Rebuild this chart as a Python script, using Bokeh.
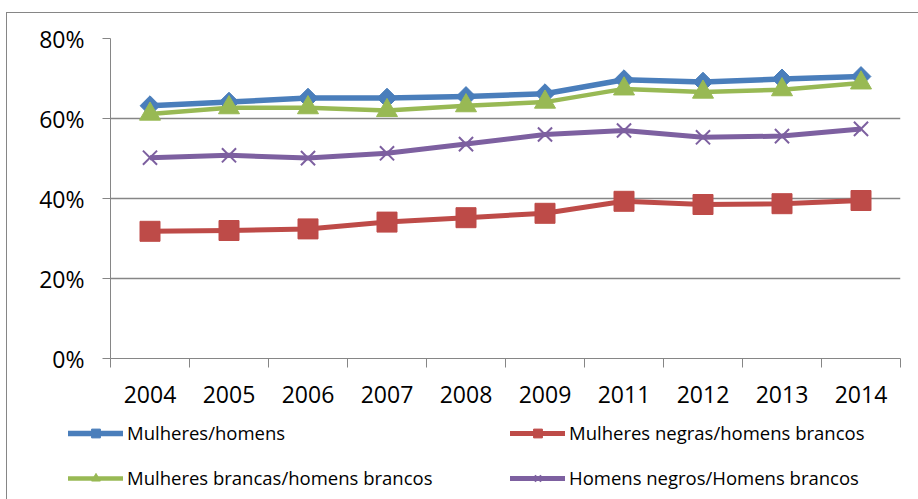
from bokeh.plotting import figure
from bokeh.layouts import column
from bokeh.models import (Range1d, FixedTicker, Legend, LegendItem, ColumnDataSource,
                          CustomJSTickFormatter, PrintfTickFormatter)
from bokeh.embed import file_html
from bokeh.resources import INLINE
import math

# ---- data ----
years = ["2004", "2005", "2006", "2007", "2008", "2009", "2011", "2012", "2013", "2014"]
mulheres_homens = [63.2, 64.1, 65.1, 65.1, 65.5, 66.2, 69.7, 69.1, 69.9, 70.5]
mulheres_negras_homens_brancos = [31.8, 32.0, 32.4, 34.1, 35.2, 36.3, 39.3, 38.5, 38.7, 39.5]
mulheres_brancas_homens_brancos = [61.1, 62.7, 62.7, 62.0, 63.2, 64.1, 67.4, 66.6, 67.2, 68.9]
homens_negros_homens_brancos = [50.2, 50.8, 50.1, 51.3, 53.6, 56.0, 57.0, 55.3, 55.6, 57.4]
y_ticks = [0, 20, 40, 60, 80]

series_names = ["Mulheres/homens", "Mulheres negras/homens brancos",
                "Mulheres brancas/homens brancos", "Homens negros/Homens brancos"]

FONT = "Open Sans"
GRAY = "#868686"

xs = [i + 0.5 for i in range(len(years))]

p = figure(width=918, height=415, output_backend="svg", toolbar_location=None,
           x_range=Range1d(0, len(years)), y_range=Range1d(0, 80),
           min_border_left=110, min_border_right=18, min_border_top=38, min_border_bottom=57)
p.frame_align = False
p.outline_line_color = None
p.background_fill_color = "white"
p.border_fill_color = None

# x axis: labels at category centres, ticks at category boundaries
xa = p.xaxis[0]
xa.ticker = FixedTicker(ticks=xs, minor_ticks=list(range(len(years) + 1)))
xa.formatter = CustomJSTickFormatter(args=dict(labels=years),
                                     code="return labels[Math.floor(tick)] || ''")
xa.major_tick_out = 0
xa.major_tick_in = 0
xa.minor_tick_out = 9
xa.minor_tick_in = 0
xa.minor_tick_line_color = GRAY
xa.axis_line_color = GRAY
xa.major_label_text_font = FONT
xa.major_label_text_font_size = "23px"
xa.major_label_text_color = "black"
xa.major_label_standoff = 18

ya = p.yaxis[0]
ya.ticker = FixedTicker(ticks=y_ticks)
ya.formatter = PrintfTickFormatter(format="%d%%")
ya.major_tick_out = 8
ya.major_tick_in = 0
ya.minor_tick_line_color = None
ya.major_tick_line_color = GRAY
ya.axis_line_color = GRAY
ya.major_label_text_font = FONT
ya.major_label_text_font_size = "23px"
ya.major_label_text_color = "black"
ya.major_label_standoff = 18

p.xgrid.grid_line_color = None
p.ygrid.ticker = FixedTicker(ticks=y_ticks[1:])
p.ygrid.grid_line_color = GRAY
p.ygrid.grid_line_width = 1.3

colors = ["#4A7EBB", "#BE4B48", "#98B954", "#7D60A0"]
values = [mulheres_homens, mulheres_negras_homens_brancos,
          mulheres_brancas_homens_brancos, homens_negros_homens_brancos]
markers = ["square", "square", "triangle", "x"]
sizes = [14, 20, 21, 20]
angles = [math.pi / 4, 0, 0, 0]
lwidths = [5.5, 5, 4.5, 5]

# legend strip (separate canvas so the legend is not clipped by the plot frame)
p2 = figure(width=918, height=84, output_backend="svg", toolbar_location=None,
            x_range=Range1d(0, len(years)), y_range=Range1d(-2, -1),
            x_axis_location=None, y_axis_location=None,
            min_border_left=0, min_border_right=0, min_border_top=0, min_border_bottom=0)
p2.frame_align = False
p2.outline_line_color = None
p2.background_fill_color = None
p2.border_fill_color = None
p2.grid.visible = False

items = []
for name, vals, c, m, s, a, lw in zip(series_names, values, colors, markers, sizes, angles, lwidths):
    src = ColumnDataSource(dict(x=xs, y=vals))
    p.line("x", "y", source=src, line_color=c, line_width=lw, line_join="round")
    if m == "x":
        p.scatter("x", "y", source=src, marker=m, size=s, line_color=c, line_width=2)
    else:
        p.scatter("x", "y", source=src, marker=m, size=s, angle=a,
                  fill_color=c, line_color=c, line_width=1)
    # legend renderers in the strip (their data lies outside the strip's range)
    lr = p2.line("x", "y", source=src, line_color=c, line_width=lw, line_cap="round")
    if m == "x":
        sr = p2.scatter("x", "y", source=src, marker=m, size=s, line_color=c, line_width=2)
    else:
        sr = p2.scatter("x", "y", source=src, marker=m, size=s, angle=a,
                        fill_color=c, line_color=c, line_width=1)
    items.append(LegendItem(label=name, renderers=[lr, sr]))

common = dict(orientation="vertical", glyph_width=55, glyph_height=22, spacing=20,
              label_standoff=4, padding=0, margin=0, border_line_alpha=0,
              background_fill_alpha=0, label_text_font=FONT, label_text_font_size="18.5px",
              label_text_color="black")
leg1 = Legend(items=[items[0], items[2]], location=(68, 9), **common)
leg2 = Legend(items=[items[1], items[3]], location=(510, 9), **common)
p2.add_layout(leg1)
p2.add_layout(leg2)

layout = column(p, p2, spacing=0, styles={
    "background-color": "white",
    "background-image": "linear-gradient(#868686, #868686), linear-gradient(#868686, #868686)",
    "background-size": "1px 100%, 100% 1px",
    "background-position": "6px 12px, 6px 12px",
    "background-repeat": "no-repeat",
})

open("out.html", "w").write(file_html(layout, INLINE))
